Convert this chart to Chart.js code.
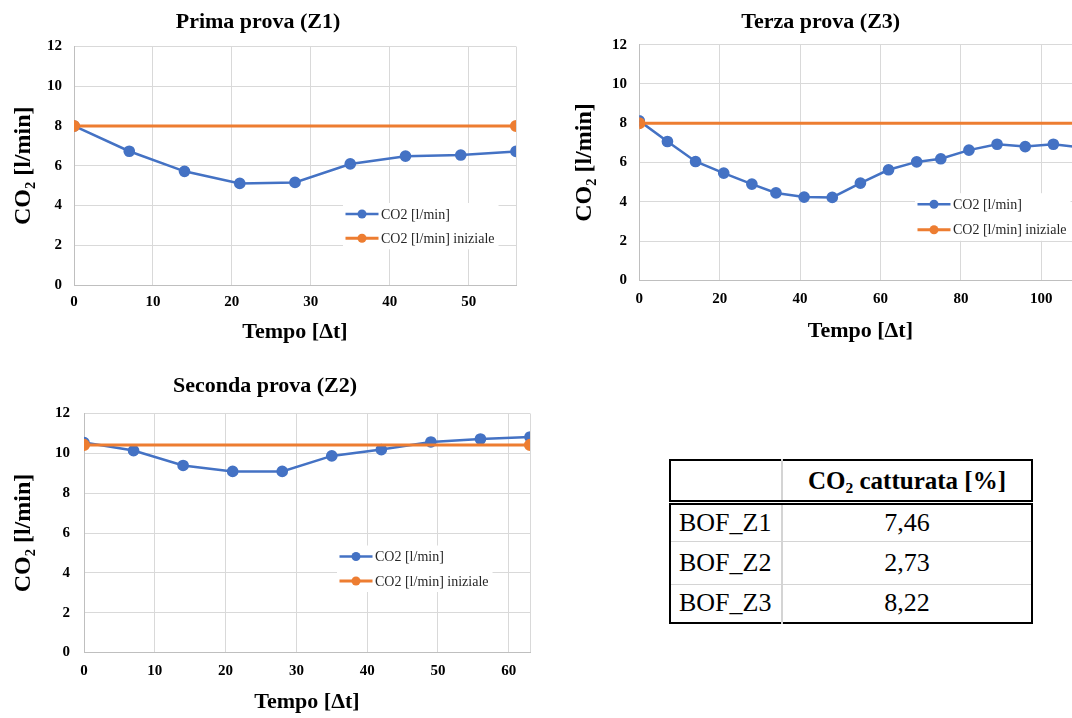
<!DOCTYPE html>
<html lang="it">
<head>
<meta charset="utf-8">
<title>CO2 catturata - prove BOF</title>
<script src="https://cdn.jsdelivr.net/npm/chart.js@4"></script>
<style>
  html, body { margin: 0; padding: 0; background: #fff; }
  body { width: 1072px; height: 718px; position: relative; overflow: hidden; }
  canvas { position: absolute; }
  #tabella {
    position: absolute; left: 669px; top: 458.5px;
    border-collapse: collapse; border: 2.5px solid #000;
    font-family: "Liberation Serif", "Times New Roman", serif; color: #000;
  }
  #tabella th, #tabella td { padding: 0; line-height: 1; }
  #tabella th { height: 39px; font-size: 25px; font-weight: bold; border-bottom: 5px double #000; }
  #tabella td { font-size: 26px; border-top: 1.5px solid #d4d4d4; }
  #tabella .etichetta { width: 102px; padding-left: 8px; text-align: left; border-right: 2px solid #d4d4d4; }
  #tabella .valore { width: 248px; text-align: center; }
  #tabella tbody tr:nth-child(1) td { height: 36px; }
  #tabella tbody tr:nth-child(2) td { height: 42px; }
  #tabella tbody tr:nth-child(3) td { height: 37px; }
  sub { font-size: 0.62em; vertical-align: -0.28em; line-height: 0; }
</style>
</head>
<body>
<canvas id="graficoZ1" width="608" height="350" style="left:0px;top:0px"></canvas>
<canvas id="graficoZ3" width="581" height="350" style="left:560px;top:0px"></canvas>
<canvas id="graficoZ2" width="630" height="358" style="left:0px;top:360px"></canvas>

<table id="tabella">
  <thead><tr><th class="etichetta"></th><th class="valore">CO<sub>2</sub> catturata [%]</th></tr></thead>
  <tbody id="corpoTabella"></tbody>
</table>

<script>
// dati
const tempoZ1 = [0, 7, 14, 21, 28, 35, 42, 49, 56];
const co2Z1 = [8.0, 6.73, 5.72, 5.11, 5.16, 6.09, 6.48, 6.54, 6.72];
const tempoInizialeZ1 = [0, 56];
const co2InizialeZ1 = [8.0, 8.0];

const tempoZ2 = [0, 7, 14, 21, 28, 35, 42, 49, 56, 63];
const co2Z2 = [10.54, 10.14, 9.39, 9.09, 9.09, 9.87, 10.19, 10.57, 10.72, 10.82];
const tempoInizialeZ2 = [0, 63];
const co2InizialeZ2 = [10.42, 10.42];

const tempoZ3 = [0, 7, 14, 21, 28, 34, 41, 48, 55, 62, 69, 75, 82, 89, 96, 103, 110];
const co2Z3 = [8.12, 7.07, 6.05, 5.46, 4.9, 4.45, 4.24, 4.22, 4.95, 5.63, 6.03, 6.19, 6.63, 6.93, 6.81, 6.93, 6.76];
const tempoInizialeZ3 = [0, 110];
const co2InizialeZ3 = [8.0, 8.0];

const tickX1 = [0, 10, 20, 30, 40, 50];
const tickX2 = [0, 10, 20, 30, 40, 50, 60];
const tickX3 = [0, 20, 40, 60, 80, 100];
const tickY = [0, 2, 4, 6, 8, 10, 12];

const provaTabella = ["BOF_Z1", "BOF_Z2", "BOF_Z3"];
const co2Catturata = [7.46, 2.73, 8.22];

const FONT = '"Liberation Serif", "Times New Roman", serif';
const BLU = "#4472C4";
const ARANCIO = "#ED7D31";

// legenda disegnata dentro l'area del grafico, con fondo bianco
const legendaInterna = {
  id: "legendaInterna",
  afterDraw(chart, args, opts) {
    const { ctx, chartArea } = chart;
    const x = chartArea.left + opts.x;
    const y = chartArea.top + opts.y;
    ctx.save();
    ctx.font = "14px " + FONT;
    let larghezza = 0;
    chart.data.datasets.forEach((ds) => {
      larghezza = Math.max(larghezza, ctx.measureText(ds.label).width);
    });
    ctx.fillStyle = "#fff";
    ctx.fillRect(x - 19, y - 11, 19 + 19 + larghezza + 4, opts.passo + 22);
    ctx.textBaseline = "middle";
    chart.data.datasets.forEach((ds, i) => {
      const yy = y + i * opts.passo;
      ctx.strokeStyle = ds.borderColor;
      ctx.lineWidth = ds.borderWidth;
      ctx.beginPath();
      ctx.moveTo(x - 16.5, yy);
      ctx.lineTo(x + 16.5, yy);
      ctx.stroke();
      ctx.fillStyle = ds.backgroundColor;
      ctx.beginPath();
      ctx.arc(x, yy, 4.5, 0, Math.PI * 2);
      ctx.fill();
      ctx.fillStyle = "#262626";
      ctx.fillText(ds.label, x + 19, yy + 1);
    });
    ctx.restore();
  },
};

function punti(xs, ys) {
  return xs.map((t, i) => ({ x: t, y: ys[i] }));
}

function creaGrafico(id, titolo, tempo, co2, tempoIni, co2Ini, tickX, l) {
  const maxX = tempo[tempo.length - 1];
  return new Chart(document.getElementById(id), {
    type: "line",
    data: {
      datasets: [
        {
          label: "CO2 [l/min]",
          data: punti(tempo, co2),
          borderColor: BLU,
          backgroundColor: BLU,
          borderWidth: 2.5,
          pointRadius: 4.6,
          pointHoverRadius: 4.6,
          order: 1,
        },
        {
          label: "CO2 [l/min] iniziale",
          data: punti(tempoIni, co2Ini),
          borderColor: ARANCIO,
          backgroundColor: ARANCIO,
          borderWidth: 3,
          pointRadius: 4.6,
          pointHoverRadius: 4.6,
          order: 0,
        },
      ],
    },
    options: {
      responsive: false,
      animation: false,
      layout: { padding: { left: 0, top: 0, right: l.padDestra, bottom: 0 } },
      scales: {
        x: {
          type: "linear",
          min: 0,
          max: maxX,
          grid: { color: "#d9d9d9", drawTicks: false },
          border: { color: "#bfbfbf" },
          ticks: {
            font: { family: FONT, size: 15, weight: "bold" },
            color: "#000",
            padding: l.padTickX,
            callback: (v) => (tickX.includes(v) ? v : ""),
          },
          title: {
            display: true,
            text: "Tempo [Δt]",
            font: { family: FONT, size: 22, weight: "bold" },
            color: "#000",
            padding: { top: 0, bottom: l.padTitoloX },
          },
          afterBuildTicks: (s) => {
            s.ticks = tickX.concat([maxX]).map((v) => ({ value: v }));
          },
          afterFit: (s) => {
            s.height = l.altezzaX;
          },
        },
        y: {
          min: 0,
          max: 12,
          grid: { color: "#d9d9d9", drawTicks: false },
          border: { color: "#bfbfbf" },
          ticks: {
            font: { family: FONT, size: 15, weight: "bold" },
            color: "#000",
            padding: l.padTickY,
          },
          title: {
            display: true,
            text: "CO₂ [l/min]",
            font: { family: FONT, size: 24, weight: "bold" },
            color: "#000",
            padding: { top: l.padTitoloY, bottom: 0 },
          },
          afterBuildTicks: (s) => {
            s.ticks = tickY.map((v) => ({ value: v }));
          },
          afterFit: (s) => {
            s.width = l.larghezzaY;
          },
        },
      },
      plugins: {
        legend: { display: false },
        tooltip: { enabled: false },
        title: {
          display: true,
          text: titolo,
          font: { family: FONT, size: 22, weight: "bold" },
          color: "#000",
          padding: { top: l.padTitoloSu, bottom: l.padTitoloGiu },
        },
        legendaInterna: l.legenda,
      },
    },
    plugins: [legendaInterna],
  });
}

creaGrafico("graficoZ1", "Prima prova (Z1)", tempoZ1, co2Z1, tempoInizialeZ1, co2InizialeZ1, tickX1, {
  padDestra: 92, larghezzaY: 74, altezzaX: 65,
  padTickX: 8, padTickY: 12, padTitoloX: 4.8, padTitoloY: 9.6,
  padTitoloSu: 8.8, padTitoloGiu: 11.3,
  legenda: { x: 288, y: 167.5, passo: 24.3 },
});

creaGrafico("graficoZ3", "Terza prova (Z3)", tempoZ3, co2Z3, tempoInizialeZ3, co2InizialeZ3, tickX3, {
  padDestra: 59.5, larghezzaY: 79.3, altezzaX: 69.7,
  padTickX: 10.2, padTickY: 12.3, padTitoloX: 5.3, padTitoloY: 10,
  padTitoloSu: 8.8, padTitoloGiu: 9.5,
  legenda: { x: 294.7, y: 159.5, passo: 25.6 },
});

creaGrafico("graficoZ2", "Seconda prova (Z2)", tempoZ2, co2Z2, tempoInizialeZ2, co2InizialeZ2, tickX2, {
  padDestra: 100, larghezzaY: 84, altezzaX: 65.5,
  padTickX: 9.7, padTickY: 14, padTitoloX: 2.2, padTitoloY: 9.6,
  padTitoloSu: 12.8, padTitoloGiu: 14.3,
  legenda: { x: 272, y: 143, passo: 24.5 },
});

// tabella percentuali
const corpo = document.getElementById("corpoTabella");
provaTabella.forEach((nome, i) => {
  const riga = document.createElement("tr");
  riga.innerHTML =
    '<td class="etichetta">' + nome + '</td><td class="valore">' +
    co2Catturata[i].toFixed(2).replace(".", ",") + "</td>";
  corpo.appendChild(riga);
});
</script>
</body>
</html>
